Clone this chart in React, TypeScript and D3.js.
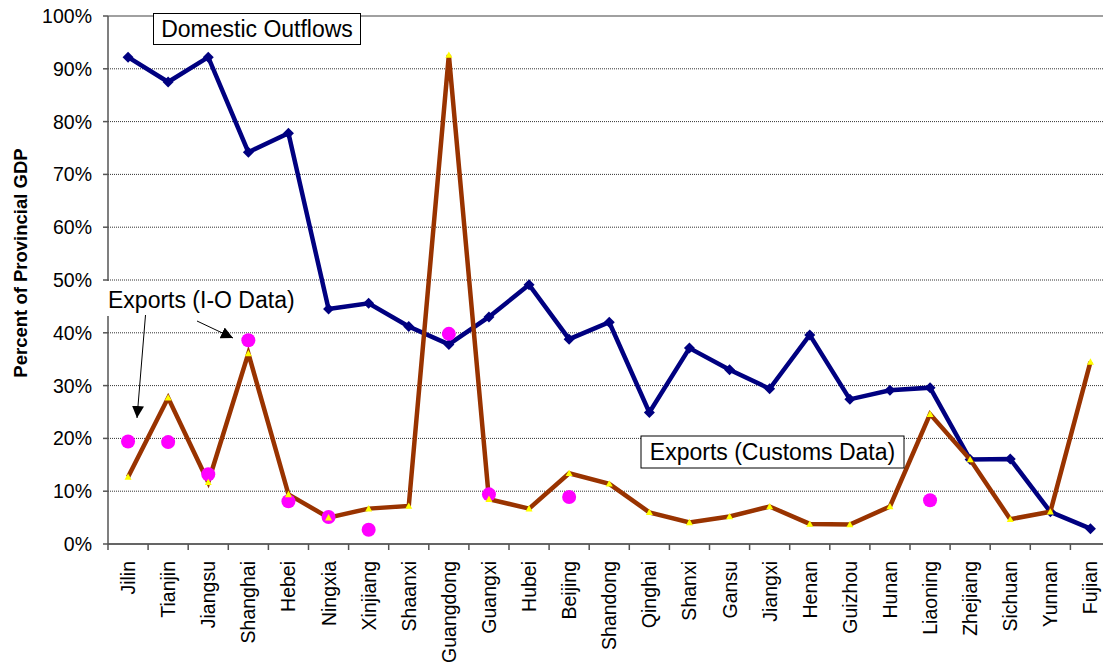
import React from "react";
import * as d3 from "d3";

const categories = ["Jilin","Tianjin","Jiangsu","Shanghai","Hebei","Ningxia","Xinjiang","Shaanxi","Guangdong","Guangxi","Hubei","Beijing","Shandong","Qinghai","Shanxi","Gansu","Jiangxi","Henan","Guizhou","Hunan","Liaoning","Zhejiang","Sichuan","Yunnan","Fujian"];

const domesticOutflows = [92.2,87.5,92.2,74.2,77.8,44.5,45.6,41.2,37.8,43.0,49.1,38.8,42.0,24.9,37.1,33.0,29.4,39.6,27.4,29.1,29.6,16.0,16.1,6.1,2.9];

const exportsCustoms = [12.7,27.7,11.7,36.1,9.4,5.0,6.7,7.2,92.6,8.5,6.7,13.4,11.4,6.0,4.1,5.2,7.1,3.8,3.7,7.1,24.6,16.0,4.7,6.1,34.5];

const exportsIO: (number | null)[] = [19.4,19.3,13.2,38.6,8.1,5.1,2.7,null,39.8,9.4,null,8.9,null,null,null,null,null,null,null,null,8.3,null,null,null,null];

const yTicks = [0,10,20,30,40,50,60,70,80,90,100];

const FONT = "Arial, 'Liberation Sans', sans-serif";

export default function App() {
  const left = 108;
  const step = 40.1;
  const x = d3.scaleBand<string>().domain(categories).range([left, left + step * categories.length]).paddingInner(0).paddingOuter(0);
  const cx = (c: string) => (x(c) as number) + x.bandwidth() / 2;
  const y = d3.scaleLinear().domain([0, 100]).range([544, 16]);

  const line = d3.line<number>().x((_, i) => cx(categories[i])).y((d) => y(d));

  const diamond = (px: number, py: number, s: number) =>
    `M${px},${py - s}L${px + s},${py}L${px},${py + s}L${px - s},${py}Z`;
  const tri = (px: number, py: number, s: number) =>
    `M${px},${py - s}L${px + s},${py + s * 0.8}L${px - s},${py + s * 0.8}Z`;

  return (
    <svg width={1103} height={664} style={{ position: "absolute", left: 0, top: 0, background: "#fff" }} fontFamily={FONT}>
      {/* gridlines */}
      {yTicks.map((t) => (
        <line key={"g" + t} x1={left} x2={1103} y1={y(t)} y2={y(t)}
          stroke={t === 100 ? "#808080" : "#333"} strokeWidth={t === 100 ? 1.5 : 1}
          strokeDasharray={t === 100 || t === 0 ? undefined : "1 1"} />
      ))}
      {/* axes */}
      <line x1={left} x2={left} y1={y(100)} y2={y(0)} stroke="#555" strokeWidth={1.5} />
      <line x1={left} x2={1103} y1={y(0)} y2={y(0)} stroke="#555" strokeWidth={1.5} />
      {yTicks.map((t) => (
        <g key={"yt" + t}>
          <line x1={left - 5} x2={left} y1={y(t)} y2={y(t)} stroke="#555" strokeWidth={1.5} />
          <text x={92} y={y(t)} dy="0.36em" textAnchor="end" fontSize={19.5} fill="#000">{t}%</text>
        </g>
      ))}
      {categories.map((c, i) => (
        <line key={"xt" + c} x1={left + step * i} x2={left + step * i} y1={544} y2={550} stroke="#555" strokeWidth={1.5} />
      ))}
      <line x1={left + step * 25} x2={left + step * 25} y1={544} y2={550} stroke="#555" strokeWidth={1.5} />
      {categories.map((c) => (
        <text key={"xl" + c} transform={`translate(${cx(c)},561) rotate(-90)`} dy="0.36em" textAnchor="end" fontSize={19.5} fill="#000">{c}</text>
      ))}
      <text transform="translate(27,263) rotate(-90)" textAnchor="middle" fontSize={18.5} fontWeight="bold" fill="#000">Percent of Provincial GDP</text>

      {/* Domestic outflows */}
      <path d={line(domesticOutflows) || ""} fill="none" stroke="#000080" strokeWidth={4.5} strokeLinejoin="miter" />
      {domesticOutflows.map((v, i) => (
        <path key={"dm" + i} d={diamond(cx(categories[i]), y(v), 5.5)} fill="#000080" />
      ))}

      {/* Exports customs */}
      <path d={line(exportsCustoms) || ""} fill="none" stroke="#993300" strokeWidth={4.5} strokeLinejoin="miter" />

      {/* Exports I-O */}
      {exportsIO.map((v, i) => v === null ? null : (
        <circle key={"io" + i} cx={cx(categories[i])} cy={y(v)} r={7} fill="#FF00FF" />
      ))}

      {exportsCustoms.map((v, i) => (
        <path key={"em" + i} d={tri(cx(categories[i]), y(v), 3.5)} fill="#FFFF00" />
      ))}

      {/* labels */}
      <rect x={153.5} y={13.5} width={207} height={31} fill="#fff" stroke="#000" strokeWidth={1} />
      <text x={257} y={37} textAnchor="middle" fontSize={23} fill="#000">Domestic Outflows</text>

      <rect x={641} y={436} width={263} height={32} fill="#fff" stroke="#000" strokeWidth={1} />
      <text x={772.5} y={460} textAnchor="middle" fontSize={23} fill="#000">Exports (Customs Data)</text>

      <rect x={100} y={281} width={206} height={35} fill="#fff" />
      <text x={108} y={308} fontSize={23} fill="#000">Exports (I-O Data)</text>

      <defs>
        <marker id="ah" viewBox="0 0 10 10" refX={10} refY={5} markerWidth={12} markerHeight={12} markerUnits="userSpaceOnUse" orient="auto">
          <path d="M0,0L10,5L0,10Z" fill="#000" />
        </marker>
      </defs>
      <line x1={145.5} y1={315} x2={137} y2={418} stroke="#000" strokeWidth={1} markerEnd="url(#ah)" />
      <line x1={197} y1={321} x2={233} y2={338} stroke="#000" strokeWidth={1} markerEnd="url(#ah)" />
    </svg>
  );
}
